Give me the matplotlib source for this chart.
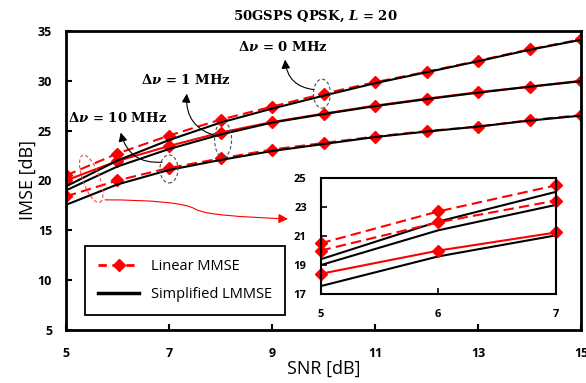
import numpy as np
import matplotlib
matplotlib.use('Agg')
from matplotlib import pyplot as plt
from matplotlib.patches import Ellipse, FancyArrowPatch
from matplotlib.path import Path
from matplotlib.lines import Line2D
from matplotlib.transforms import ScaledTranslation

plt.rcParams['mathtext.fontset'] = 'custom'
plt.rcParams['mathtext.rm'] = 'DejaVu Serif:bold'
plt.rcParams['mathtext.it'] = 'DejaVu Serif:italic:bold'
plt.rcParams['mathtext.bf'] = 'DejaVu Serif:bold'

# data
snr = [5, 6, 7, 8, 9, 10, 11, 12, 13, 14, 15]
lin_0 = [20.5, 22.7, 24.5, 26.1, 27.4, 28.7, 29.85, 30.9, 32.0, 33.15, 34.15]
simp_0 = [19.4, 22.0, 24.05, 25.8, 27.2, 28.5, 29.75, 30.85, 31.95, 33.1, 34.1]
lin_1 = [20.0, 21.95, 23.45, 24.8, 25.85, 26.7, 27.5, 28.2, 28.85, 29.4, 30.0]
simp_1 = [19.0, 21.4, 23.15, 24.6, 25.8, 26.65, 27.45, 28.15, 28.8, 29.4, 29.95]
lin_10 = [18.4, 20.0, 21.25, 22.2, 23.1, 23.75, 24.4, 24.95, 25.4, 26.05, 26.55]
simp_10 = [17.55, 19.6, 21.05, 22.05, 22.95, 23.65, 24.35, 24.9, 25.4, 26.0, 26.5]

xticks = [5, 7, 9, 11, 13, 15]
yticks = [5, 10, 15, 20, 25, 30, 35]
in_xticks = [5, 6, 7]
in_yticks = [17, 19, 21, 23, 25]

tick_font = dict(family='Open Sans', weight='bold')
label_font = 'Open Sans'

fig = plt.figure(figsize=(5.86, 3.83), dpi=100)
ax = fig.add_axes([0.1126, 0.1384, 0.879, 0.781])

red = '#ff0000'
dash = (5, 2.5)

# main curves (top dashed, middle solid, bottom dashed as in the figure)
ax.plot(snr, simp_0, color='k', lw=1.5, zorder=3)
ax.plot(snr, simp_1, color='k', lw=1.5, zorder=3)
ax.plot(snr, simp_10, color='k', lw=1.5, zorder=3)
ax.plot(snr, lin_0, color=red, lw=1.5, ls='--', dashes=dash, marker='D', ms=6, zorder=2)
ax.plot(snr, lin_1, color=red, lw=1.5, marker='D', ms=6, zorder=2)
ax.plot(snr, lin_10, color=red, lw=1.5, ls='--', dashes=dash, marker='D', ms=6, zorder=2)

ax.set_xlim(5, 15)
ax.set_ylim(5, 35)
ax.set_xticks(xticks)
ax.set_yticks(yticks)
ax.set_xticklabels([str(v) for v in xticks], fontdict=tick_font, fontsize=9)
ax.set_yticklabels([str(v) for v in yticks], fontdict=tick_font, fontsize=9)
ax.tick_params(axis='both', direction='in', length=4, width=1.5)
ax.tick_params(axis='x', pad=12)
ax.tick_params(axis='y', pad=10)
for s in ax.spines.values():
    s.set_linewidth(2)
ax.set_xlabel('SNR [dB]', fontfamily=label_font, fontsize=13, labelpad=0)
ax.set_ylabel('IMSE [dB]', fontfamily=label_font, fontsize=13, labelpad=1)
ax.set_title('50GSPS QPSK, $L$ = 20', fontfamily='DejaVu Serif', fontweight='bold',
             fontsize=9.5, pad=8, x=0.485)

# annotations
ann_font = dict(family='DejaVu Serif', weight='bold', size=9.5)
ax.text(9.21, 33.4, '$\\Delta\\nu$ = 0 MHz', ha='center', va='center', **ann_font)
ax.text(7.32, 30.1, '$\\Delta\\nu$ = 1 MHz', ha='center', va='center', **ann_font)
ax.text(6.01, 26.3, '$\\Delta\\nu$ = 10 MHz', ha='center', va='center', **ann_font)

arrows = [((9.87, 29.08), (9.25, 32.39)),
          ((7.99, 24.37), (7.35, 28.98)),
          ((6.92, 21.86), (6.05, 25.07))]
for tail, head in arrows:
    ax.add_patch(FancyArrowPatch(tail, head, connectionstyle='arc3,rad=-0.45',
                                 arrowstyle='-|>', mutation_scale=13, color='k',
                                 lw=0.8, zorder=5))

ellipses = [((9.97, 28.7), 0.17, 0.29, 0, '0.3'),
            ((8.05, 24.1), 0.17, 0.35, 0, '0.3'),
            ((7.0, 21.15), 0.18, 0.28, 0, '0.3'),
            ((5.49, 20.16), 0.17, 0.50, 20, '#ff4040')]
for (cx, cy), w, h, a, c in ellipses:
    tr = fig.dpi_scale_trans + ScaledTranslation(cx, cy, ax.transData)
    ax.add_patch(Ellipse((0, 0), w, h, angle=a, fill=False, ls=(0, (3, 2)),
                         ec=c, lw=0.8, transform=tr, zorder=6))

verts = [(5.76, 18.05), (6.63, 18.05), (7.31, 17.75), (7.50, 17.15),
         (7.70, 16.54), (8.38, 16.34), (9.31, 16.14)]
codes = [Path.MOVETO] + [Path.CURVE4] * 6
ax.add_patch(FancyArrowPatch(path=Path(verts, codes), arrowstyle='-|>',
                             mutation_scale=14, color=red, lw=0.8, zorder=6))

handles = [Line2D([], [], color=red, ls='--', dashes=(3, 2), lw=2, marker='D', ms=6),
           Line2D([], [], color='k', lw=2.5)]
leg = ax.legend(handles, ['Linear MMSE', 'Simplified LMMSE'], loc='lower left',
                bbox_to_anchor=(0.037, 0.05), borderaxespad=0, fancybox=False,
                edgecolor='k', framealpha=1, handlelength=2.8, borderpad=0.9,
                labelspacing=0.9, prop={'family': label_font, 'size': 10.5})
leg.get_frame().set_linewidth(1.3)

# inset
axi = fig.add_axes([0.547, 0.232, 0.4015, 0.303])
n = 3
axi.plot(snr[:n], simp_0[:n], color='k', lw=1.5)
axi.plot(snr[:n], simp_1[:n], color='k', lw=1.5)
axi.plot(snr[:n], simp_10[:n], color='k', lw=1.5)
axi.plot(snr[:n], lin_0[:n], color=red, lw=1.5, ls='--', dashes=dash, marker='D', ms=6, clip_on=False)
axi.plot(snr[:n], lin_1[:n], color=red, lw=1.5, ls='--', dashes=dash, marker='D', ms=6, clip_on=False)
axi.plot(snr[:n], lin_10[:n], color=red, lw=1.5, marker='D', ms=6, clip_on=False)
axi.set_xlim(5, 7)
axi.set_ylim(17, 25)
axi.set_xticks(in_xticks)
axi.set_yticks(in_yticks)
axi.set_xticklabels([str(v) for v in in_xticks], fontdict=tick_font, fontsize=8)
axi.set_yticklabels([str(v) for v in in_yticks], fontdict=tick_font, fontsize=8)
axi.tick_params(axis='both', direction='in', length=4, width=1.2)
axi.tick_params(axis='x', pad=11)
axi.tick_params(axis='y', pad=10)
for s in axi.spines.values():
    s.set_linewidth(1.5)

fig.savefig('out.png', dpi=100)
